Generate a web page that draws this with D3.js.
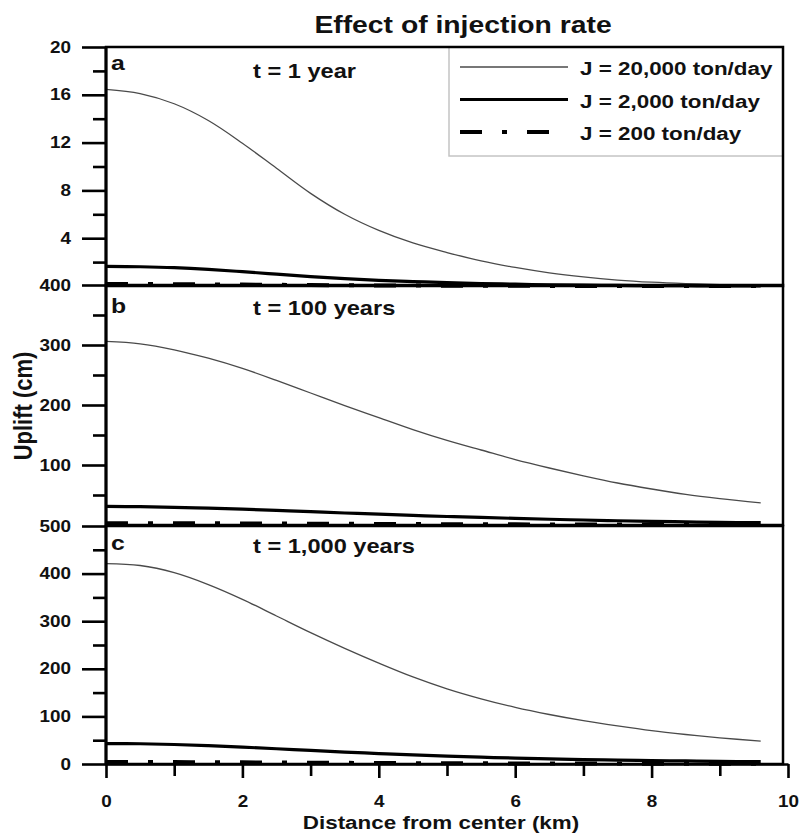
<!DOCTYPE html>
<html lang="en">
  <head>
    <meta charset="utf-8" />
    <script src="https://d3js.org/d3.v7.min.js"></script>
    <style>
      body { margin: 0; background: #ffffff; }
      svg text { font-family: "Liberation Sans", Arial, sans-serif; font-weight: bold; fill: #111; }
    </style>
  </head>
  <body>
    <script type="text/javascript">

      // distance from center (km), shared by all curves
      var distance = [0, 0.5, 1, 1.5, 2, 2.5, 3, 3.5, 4, 4.5, 5, 5.5, 6, 6.5,
                      7, 7.5, 8, 8.5, 9, 9.6];

      // uplift (cm), panel a: t = 1 year
      var upliftA20000 = [16.45, 16.1, 15.25, 13.85, 11.95, 9.85, 7.75, 6.0, 4.65, 3.6,
                          2.8, 2.1, 1.55, 1.1, 0.76, 0.5, 0.32, 0.2, 0.12, 0.07];
      var upliftA2000 = [1.65, 1.61, 1.53, 1.39, 1.2, 0.99, 0.78, 0.61, 0.47, 0.37,
                         0.28, 0.21, 0.15, 0.1, 0.07, 0.05, 0.03, 0.02, 0.012, 0.007];
      var upliftA200 = [0.165, 0.161, 0.152, 0.139, 0.119, 0.098, 0.077, 0.06, 0.046,
                        0.036, 0.028, 0.021, 0.015, 0.01, 0.007, 0.005, 0.003, 0.002,
                        0.001, 0.001];

      // panel b: t = 100 years
      var upliftB20000 = [306, 302, 292, 278, 261, 241, 220, 199, 179, 159, 141, 125,
                          109, 95, 82, 70, 60, 51, 44, 37];
      var upliftB2000 = [31, 30.5, 29.5, 28, 26.3, 24.3, 22.2, 20, 18, 16, 14.2, 12.6,
                         11, 9.6, 8.3, 7.1, 6.1, 5.2, 4.5, 3.8];
      var upliftB200 = [3.06, 3.02, 2.92, 2.78, 2.61, 2.41, 2.2, 1.99, 1.79, 1.59, 1.41,
                        1.25, 1.09, 0.95, 0.82, 0.7, 0.6, 0.51, 0.44, 0.37];

      // panel c: t = 1,000 years
      var upliftC20000 = [421, 417, 402, 377, 346, 311, 276, 243, 212, 183, 158, 137,
                          119, 104, 91, 80, 70, 62, 55, 48];
      var upliftC2000 = [43, 42.5, 41, 38.5, 35.5, 32, 28.5, 25, 22, 19, 16.5, 14.3,
                         12.4, 10.8, 9.4, 8.2, 7.2, 6.4, 5.6, 4.9];
      var upliftC200 = [4.2, 4.15, 4.0, 3.77, 3.46, 3.11, 2.76, 2.43, 2.12, 1.83, 1.58,
                        1.37, 1.19, 1.04, 0.91, 0.8, 0.7, 0.62, 0.55, 0.48];

      // labels and ticks
      var seriesNames = ["J = 20,000 ton/day", "J = 2,000 ton/day", "J = 200 ton/day"];
      var panelLetters = ["a", "b", "c"];
      var panelTimes = ["t = 1 year", "t = 100 years", "t = 1,000 years"];
      var panelMax = [20, 400, 500];
      var majorTicks = [[4, 8, 12, 16, 20], [100, 200, 300, 400], [0, 100, 200, 300, 400, 500]];
      var minorTicks = [[2, 6, 10, 14, 18], [50, 150, 250, 350], [50, 150, 250, 350, 450]];
      var xTicks = [0, 2, 4, 6, 8, 10];
      var xMinorTicks = [1, 3, 5, 7, 9];

      var allSeries = [[upliftA20000, upliftA2000, upliftA200],
                       [upliftB20000, upliftB2000, upliftB200],
                       [upliftC20000, upliftC2000, upliftC200]];

      // layout
      var w = 800;
      var h = 835;
      var leftChart = 106;
      var rightAxis = 788;
      var rightFrame = 783;
      var panelTop = [47, 285, 526];
      var panelBottom = [286, 525, 764];
      var letterBase = [70, 313, 550];
      var timeBase = [78, 315, 553];
      var stretch = 1.18;

      // line styles per series
      var lineColor = ["#4a4a4a", "#000", "#000"];
      var lineWidth = [1.3, 3.2, 4];
      var lineDash = [null, null, "22,20,5,20"];

      var svg = d3.select("body")
                  .append("svg")
                  .attr("width", w)
                  .attr("height", h);

      var xScale = d3.scaleLinear()
                     .domain([0, 10])
                     .range([leftChart, rightAxis]);

      // draw the three stacked panels
      for (var p = 0; p < 3; p++) {
        var yScale = d3.scaleLinear()
                       .domain([0, panelMax[p]])
                       .range([panelBottom[p], panelTop[p]]);

        // legend box sits under the frame in panel a
        if (p == 0) {
          svg.append("rect")
             .attr("x", 449)
             .attr("y", panelTop[0])
             .attr("width", rightFrame - 449)
             .attr("height", 156 - panelTop[0])
             .attr("fill", "none")
             .attr("stroke", "#c4c4c4")
             .attr("stroke-width", 1.5);
        }

        // curves, dashed first so the thin one stays on top
        for (var s = 2; s >= 0; s--) {
          var line = d3.line()
                       .x(function(d, i) { return xScale(distance[i]); })
                       .y(function(d) { return yScale(d); })
                       .curve(d3.curveCatmullRom.alpha(0.5));
          svg.append("path")
             .datum(allSeries[p][s])
             .attr("d", line)
             .attr("fill", "none")
             .attr("stroke", lineColor[s])
             .attr("stroke-width", lineWidth[s])
             .attr("stroke-dasharray", lineDash[s]);
        }

        // frame
        svg.append("rect")
           .attr("x", leftChart)
           .attr("y", panelTop[p])
           .attr("width", rightFrame - leftChart)
           .attr("height", panelBottom[p] - panelTop[p])
           .attr("fill", "none")
           .attr("stroke", "#000")
           .attr("stroke-width", 2.5);

        // y axis, major and minor ticks
        var yAxis = svg.append("g")
                       .attr("transform", "translate(" + leftChart + ",0)")
                       .call(d3.axisLeft(yScale)
                               .tickValues(majorTicks[p])
                               .tickSize(24)
                               .tickPadding((leftChart - 71) / stretch - 24));
        yAxis.attr("font-size", 16);
        yAxis.select(".domain").remove();
        yAxis.selectAll("line").attr("stroke-width", 2.6);
        yAxis.selectAll("text").attr("transform", "scale(" + stretch + ",1)");

        var yMinor = svg.append("g")
                        .attr("transform", "translate(" + leftChart + ",0)")
                        .call(d3.axisLeft(yScale)
                                .tickValues(minorTicks[p])
                                .tickSize(13)
                                .tickFormat(""));
        yMinor.select(".domain").remove();
        yMinor.selectAll("line").attr("stroke-width", 2.6);

        // panel letter and time label
        svg.append("text")
           .attr("transform", "translate(111," + letterBase[p] + ") scale(" + stretch + ",1)")
           .attr("font-size", 21)
           .text(panelLetters[p]);
        svg.append("text")
           .attr("transform", "translate(253," + timeBase[p] + ") scale(" + stretch + ",1)")
           .attr("font-size", 20)
           .text(panelTimes[p]);
      }

      // left axis line over the whole height
      svg.append("line")
         .attr("x1", leftChart)
         .attr("x2", leftChart)
         .attr("y1", panelTop[0])
         .attr("y2", panelBottom[2])
         .attr("stroke", "#000")
         .attr("stroke-width", 3);

      // x axis
      var xAxis = svg.append("g")
                     .attr("transform", "translate(0," + panelBottom[2] + ")")
                     .call(d3.axisBottom(xScale)
                             .tickValues(xTicks)
                             .tickSize(14)
                             .tickSizeOuter(0)
                             .tickPadding(17.5));
      xAxis.attr("font-size", 16);
      xAxis.select(".domain").attr("stroke-width", 2.6);
      xAxis.selectAll("line").attr("stroke-width", 2.6);
      xAxis.selectAll("text").attr("transform", "scale(" + stretch + ",1)");

      var xMinor = svg.append("g")
                      .attr("transform", "translate(0," + panelBottom[2] + ")")
                      .call(d3.axisBottom(xScale)
                              .tickValues(xMinorTicks)
                              .tickSize(12)
                              .tickFormat(""));
      xMinor.select(".domain").remove();
      xMinor.selectAll("line").attr("stroke-width", 2.6);

      // legend entries
      for (var k = 0; k < 3; k++) {
        var ly = 67 + k * 32.5;
        svg.append("line")
           .attr("x1", 460)
           .attr("x2", 568)
           .attr("y1", ly)
           .attr("y2", ly)
           .attr("stroke", lineColor[k])
           .attr("stroke-width", lineWidth[k])
           .attr("stroke-dasharray", lineDash[k]);
        svg.append("text")
           .attr("transform", "translate(580," + (ly + 8) + ") scale(" + stretch + ",1)")
           .attr("font-size", 19)
           .text(seriesNames[k]);
      }

      // titles
      svg.append("text")
         .attr("transform", "translate(463,33) scale(" + stretch + ",1)")
         .attr("text-anchor", "middle")
         .attr("font-size", 24)
         .text("Effect of injection rate");

      svg.append("text")
         .attr("transform", "translate(441,829) scale(" + stretch + ",1)")
         .attr("text-anchor", "middle")
         .attr("font-size", 19)
         .text("Distance from center (km)");

      svg.append("text")
         .attr("transform", "translate(32,406) scale(" + stretch + ",1) rotate(-90)")
         .attr("text-anchor", "middle")
         .attr("font-size", 22)
         .text("Uplift (cm)");

    </script>
  </body>
</html>
